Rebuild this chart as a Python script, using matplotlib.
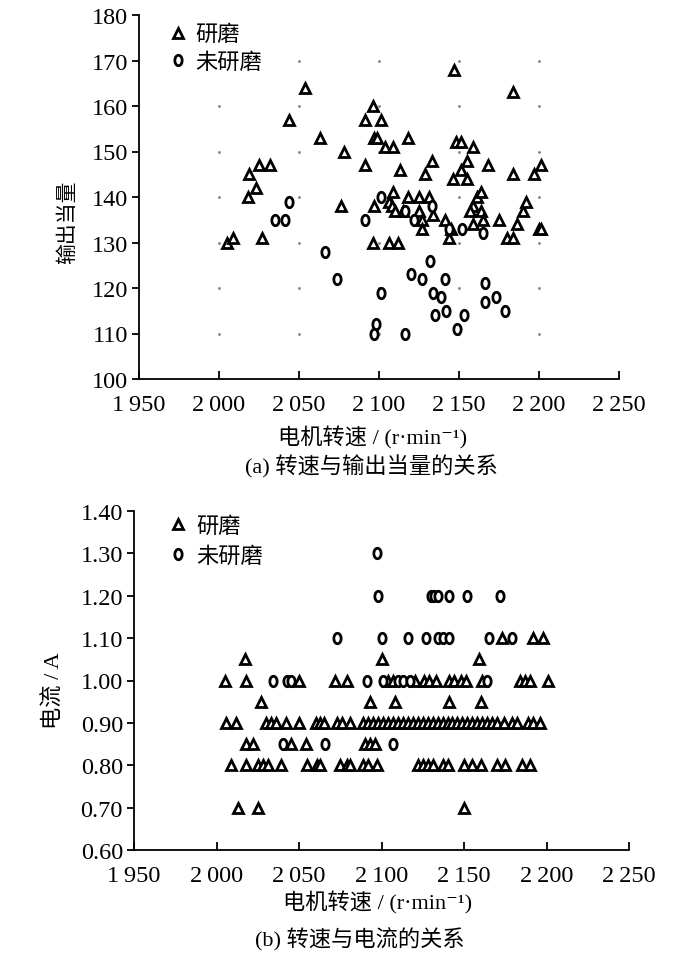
import numpy as np
import matplotlib
matplotlib.use('Agg')
import matplotlib.pyplot as plt
from matplotlib.path import Path

plt.rcParams['font.family'] = ['Liberation Serif', 'Noto Sans CJK SC', 'DejaVu Serif']
plt.rcParams['axes.linewidth'] = 1.3

# (a) speed vs output, ground
a_tri_speed = [2005, 2009, 2027, 2018, 2023, 2019, 2025, 2032, 2044, 2054, 2063, 2076,
               2078, 2091, 2091, 2096, 2097, 2099, 2101, 2097, 2096, 2104, 2109, 2106,
               2112, 2109, 2106, 2108, 2110, 2115, 2113, 2118, 2118, 2125, 2131, 2125,
               2127, 2127, 2129, 2133, 2134, 2141, 2144, 2145, 2146, 2147, 2148, 2151,
               2151, 2155, 2155, 2159, 2159, 2161, 2159, 2164, 2157, 2164, 2165, 2168,
               2175, 2180, 2184, 2184, 2184, 2186, 2190, 2192, 2197, 2201, 2200, 2201]
a_tri_output = [130, 131, 131, 140, 142, 145, 147, 147, 157, 164, 153, 138,
                150, 157, 147, 160, 153, 153, 157, 138, 130, 151, 151, 130,
                130, 141, 139, 138, 137, 137, 146, 153, 140, 140, 140, 137,
                135, 133, 145, 148, 136, 135, 131, 133, 144, 168, 152, 152,
                146, 144, 148, 151, 134, 140, 138, 141, 137, 137, 135, 147,
                135, 131, 131, 163, 145, 134, 137, 139, 145, 147, 133, 133]
# (a) not ground
a_cir_speed = [2035, 2041, 2044, 2066, 2074, 2091, 2101, 2101, 2098, 2097, 2116, 2122,
               2133, 2144, 2152, 2165, 2132, 2120, 2127, 2141, 2134, 2139, 2166, 2166,
               2173, 2179, 2135, 2142, 2153, 2149, 2116]
a_cir_output = [135, 135, 139, 128, 122, 135, 140, 119, 112, 110, 137, 135,
                138, 133, 133, 132, 126, 123, 122, 122, 119, 118, 121, 117,
                118, 115, 114, 115, 114, 111, 110]

# (b) speed vs current, ground: speeds for each current level
b_tri_levels = [1.10, 1.05, 1.00, 0.95, 0.90, 0.85, 0.80, 0.70]
b_tri_110 = [2173, 2192, 2198]
b_tri_105 = [2017, 2100, 2159]
b_tri_100 = [2005, 2018, 2050, 2072, 2079, 2104, 2107, 2120, 2126, 2129, 2133, 2141,
             2144, 2148, 2151, 2161, 2184, 2187, 2190, 2201]
b_tri_095 = [2027, 2093, 2108, 2141, 2160]
b_tri_090 = [2006, 2012, 2030, 2033, 2036, 2042, 2050, 2060, 2063, 2065, 2073, 2076,
             2081, 2089, 2092, 2095, 2098, 2101, 2104, 2107, 2110, 2113, 2116, 2119,
             2122, 2125, 2128, 2131, 2134, 2137, 2140, 2143, 2146, 2149, 2152, 2155,
             2158, 2161, 2164, 2167, 2170, 2174, 2179, 2182, 2189, 2192, 2196]
b_tri_085 = [2018, 2022, 2045, 2054, 2090, 2093, 2096]
b_tri_080 = [2009, 2018, 2025, 2028, 2031, 2039, 2055, 2061, 2063, 2075, 2079, 2081,
             2089, 2092, 2097, 2122, 2125, 2128, 2131, 2137, 2140, 2150, 2155, 2160,
             2170, 2175, 2185, 2190]
b_tri_070 = [2013, 2025, 2150]
b_tri_groups = [b_tri_110, b_tri_105, b_tri_100, b_tri_095, b_tri_090, b_tri_085,
                b_tri_080, b_tri_070]

# (b) not ground
b_cir_levels = [1.30, 1.20, 1.10, 1.00, 0.85]
b_cir_130 = [2097]
b_cir_120 = [2098, 2130, 2132, 2134, 2141, 2152, 2172]
b_cir_110 = [2073, 2100, 2116, 2127, 2134, 2137, 2141, 2165, 2179]
b_cir_100 = [2034, 2043, 2045, 2091, 2101, 2110, 2113, 2117, 2164]
b_cir_085 = [2040, 2066, 2107]
b_cir_groups = [b_cir_130, b_cir_120, b_cir_110, b_cir_100, b_cir_085]

x_ticks = [1950, 2000, 2050, 2100, 2150, 2200, 2250]
x_labels = ['1\u2009950', '2\u2009000', '2\u2009050', '2\u2009100', '2\u2009150', '2\u2009200', '2\u2009250']
a_y_ticks = [100, 110, 120, 130, 140, 150, 160, 170, 180]
b_y_ticks = [0.60, 0.70, 0.80, 0.90, 1.00, 1.10, 1.20, 1.30, 1.40]


def flatten(levels, groups):
    xs, ys = [], []
    for lv, g in zip(levels, groups):
        xs += g
        ys += [lv] * len(g)
    return xs, ys


b_tri_speed, b_tri_current = flatten(b_tri_levels, b_tri_groups)
b_cir_speed, b_cir_current = flatten(b_cir_levels, b_cir_groups)

# slightly tall open ellipse like the original markers
t = np.linspace(0, 2 * np.pi, 40)
ellipse = Path(np.column_stack([0.7 * np.cos(t), np.sin(t)]), closed=True)

tri_kw = dict(marker='^', ms=7, mfc='white', mec='black', mew=2.0, ls='none')
cir_kw = dict(marker=ellipse, ms=7.5, mfc='white', mec='black', mew=2.0, ls='none')

fig = plt.figure(figsize=(7, 9.62), dpi=100)
ax1 = fig.add_axes([139 / 700, 1 - 380 / 962, 480 / 700, 364 / 962])
ax2 = fig.add_axes([134 / 700, 1 - 851 / 962, 495 / 700, 339 / 962])


def style(ax, yticks, ylabels, ylabel, ylab_size, ylab_xy, leg_xy, leg_sp):
    ax.set_xlim(1950, 2250)
    ax.set_ylim(yticks[0], yticks[-1])
    ax.set_xticks(x_ticks)
    ax.set_xticklabels(x_labels)
    ax.set_yticks(yticks)
    ax.set_yticklabels(ylabels)
    ax.spines['top'].set_visible(False)
    ax.spines['right'].set_visible(False)
    ax.tick_params(axis='x', direction='in', length=6, width=1.3, labelsize=17.5, pad=11)
    ax.tick_params(axis='y', direction='out', length=5, width=1.3, labelsize=17.5, pad=3)
    ax.set_ylabel(ylabel, fontsize=ylab_size)
    ax.yaxis.set_label_coords(*ylab_xy)
    ax.legend(frameon=False, loc='upper left', bbox_to_anchor=leg_xy,
              borderaxespad=0, borderpad=0, fontsize=16, handletextpad=0.3,
              labelspacing=leg_sp, handlelength=1.0)


ax1.plot(a_tri_speed, a_tri_output, label='研磨', **tri_kw)
ax1.plot(a_cir_speed, a_cir_output, label='未研磨', **cir_kw)
# dotted grid points at the inner tick crossings
gx, gy = np.meshgrid(x_ticks[1:-1], a_y_ticks[1:-1])
ax1.plot(gx.ravel(), gy.ravel(), ls='none', marker='s', ms=0.9, color='#808080', zorder=0)
style(ax1, a_y_ticks, [str(v) for v in a_y_ticks], '输出当量', 15, (-0.127, 0.434),
      (0.058, 0.973), 0.33)

ax2.plot(b_tri_speed, b_tri_current, label='研磨', **tri_kw)
ax2.plot(b_cir_speed, b_cir_current, label='未研磨', **cir_kw)
style(ax2, b_y_ticks, ['%.2f' % v for v in b_y_ticks], '电流 / A', 16, (-0.141, 0.472),
      (0.067, 0.985), 0.44)

xlabel = '电机转速 / (r·min⁻¹)'
fig.text(373 / 700, 1 - 438 / 962, xlabel, fontsize=16, ha='center', va='center')
fig.text(371 / 700, 1 - 467 / 962, '(a) 转速与输出当量的关系', fontsize=16, ha='center', va='center')
fig.text(378 / 700, 1 - 903 / 962, xlabel, fontsize=16, ha='center', va='center')
fig.text(360 / 700, 1 - 940 / 962, '(b) 转速与电流的关系', fontsize=16, ha='center', va='center')

fig.savefig('out.png', dpi=100)
